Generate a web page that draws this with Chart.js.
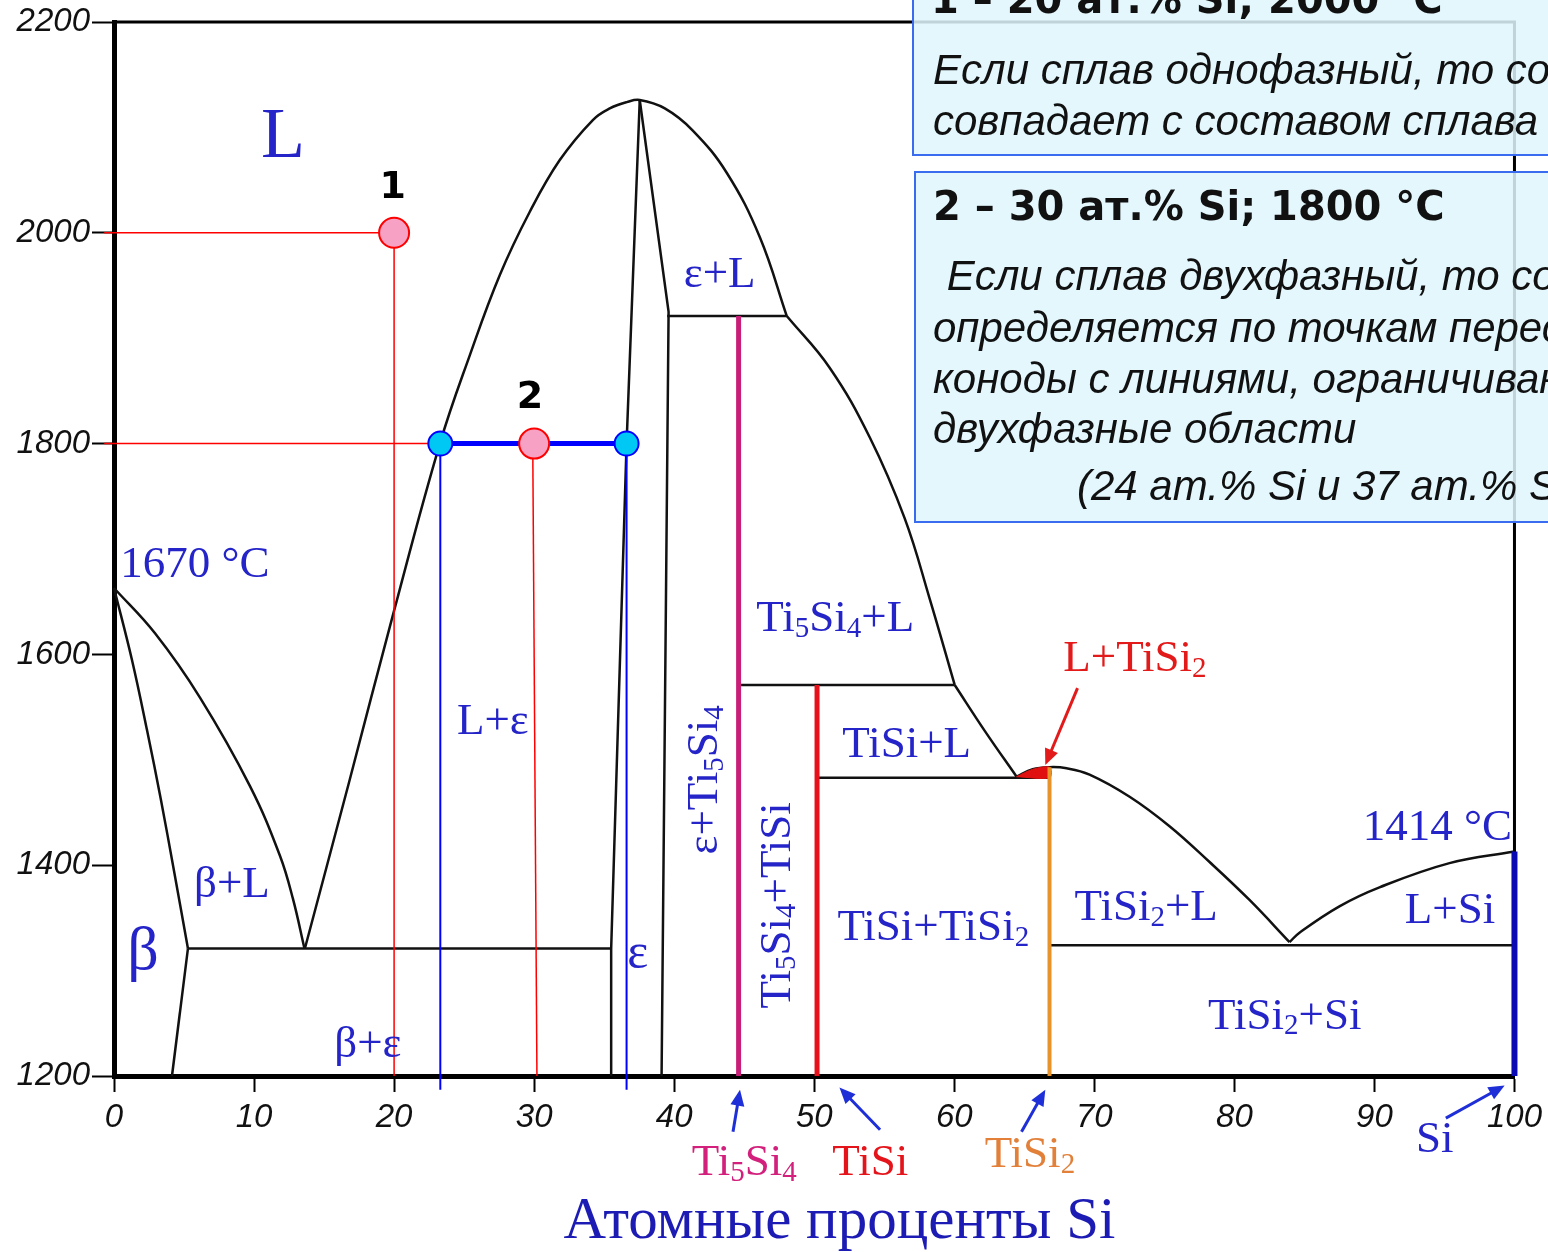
<!DOCTYPE html>
<html>
<head>
<meta charset="utf-8">
<script src="https://cdn.jsdelivr.net/npm/chart.js@4.4.0/dist/chart.umd.min.js"></script>
<style>
  html, body { margin: 0; padding: 0; background: #fff; overflow: hidden; }
  #wrap { position: relative; width: 1548px; height: 1252px; }
</style>
</head>
<body>
<div id="wrap"><canvas id="diagram"></canvas></div>
<script>
// Диаграмма Ti–Si: линии фазовых границ (ат.% Si, °C)
const liquidusTi    = [[0,1663],[2.93,1620],[6.14,1559],[9.71,1475],[11.85,1409],[12.78,1368],[13.6,1321]];
const betaSolidus   = [[0,1663],[1.28,1595],[2.36,1528],[3.35,1462],[4.28,1395],[5.28,1321]];
const betaSolvus    = [[5.28,1321],[4.14,1200]];
const eutecticBeta  = [[5.28,1321],[35.5,1321]];
const epsLeft       = [[35.5,1200],[35.5,1321],[36.6,1800],[37.54,2126]];
const epsRight      = [[37.54,2126],[39.6,1925],[39.1,1200]];
const liquidusDome  = [[13.63,1321],[16.77,1478],[19.91,1637],[23.27,1800],[25.41,1884],[27.55,1960],[29.69,2020],
                       [31.83,2069],[34.19,2107],[35.4,2118],[36.62,2124],[37.54,2126],[39.33,2118],[41.33,2097],
                       [43.75,2057],[46.11,1996],[48.04,1921]];
const liquidusTi5Si4 = [[48.04,1921],[51.1,1872],[53.96,1806],[56.46,1729],[58.24,1653],[60.03,1571]];
const liquidusTiSi  = [[60.03,1571],[62.2,1527],[64.45,1484]];
const peritecticTi5Si4 = [[39.5,1921],[48.04,1921]];
const peritecticTiSi   = [[44.6,1571],[60.03,1571]];
const eutecticTiSi     = [[50.2,1483],[66.8,1483]];
const liquidusTiSi2 = [[64.45,1484],[65.6,1491],[66.81,1493],[68.02,1492],[69.66,1486],[72.52,1465],[75.37,1437],
                       [78.23,1403],[81.08,1367],[83.94,1327]];
const liquidusSi    = [[83.94,1327],[84.65,1336],[87.5,1361],[90.36,1379],[95.36,1402],[100,1413]];
const eutecticSi    = [[66.8,1324],[100,1324]];
const regionLTiSi2  = [[64.45,1484],[65.6,1491],[66.81,1493],[66.81,1483],[64.45,1484]];

// Соединения (вертикали)
const phaseTi5Si4 = [[44.6,1921],[44.6,1200]];
const phaseTiSi   = [[50.2,1571],[50.2,1200]];
const phaseTiSi2  = [[66.8,1493],[66.8,1200]];
const phaseSi     = [[100,1413],[100,1200]];

// Построения для сплавов 1 и 2
const alloyPoints = [[20,2000],[30,1800]];
const tiePoints   = [[23.3,1800],[36.6,1800]];
const guide1H = [[-0.7,2000],[20,2000]];
const guide1V = [[20,2000],[20,1200]];
const guide2H = [[-0.7,1800],[23.3,1800]];
const guide2V = [[29.9,1800],[30.2,1200]];
const tieLine = [[23.3,1800],[36.6,1800]];
const tieLeftV  = [[23.3,1800],[23.3,1187]];
const tieRightV = [[36.6,1800],[36.6,1187]];

const xTicks = [0,10,20,30,40,50,60,70,80,90,100];
const yTicks = [1200,1400,1600,1800,2000,2200];

// Подписи областей: [текст, x, T, размер, цвет, поворот]
const BLUE = '#2424c8';
const regionLabels = [
  ['L', 12.06, 2090, 72, BLUE, 0],
  ['1670 °C', 5.78, 1685, 45, BLUE, 0],
  ['β+L', 8.42, 1381, 45, BLUE, 0],
  ['β', 2.07, 1317, 62, BLUE, 0],
  ['β+ε', 18.13, 1229, 45, BLUE, 0],
  ['L+ε', 27.05, 1536, 45, BLUE, 0],
  ['ε', 37.4, 1315, 50, BLUE, 0],
  ['ε+L', 43.25, 1960, 45, BLUE, 0],
  ['ε+Ti_5Si_4', 42.2, 1481, 45, BLUE, -90],
  ['Ti_5Si_4+TiSi', 47.4, 1362, 45, BLUE, -90],
  ['Ti_5Si_4+L', 51.5, 1633, 45, BLUE, 0],
  ['TiSi+L', 56.6, 1514, 45, BLUE, 0],
  ['TiSi+TiSi_2', 58.5, 1340, 45, BLUE, 0],
  ['TiSi_2+L', 73.7, 1359, 45, BLUE, 0],
  ['L+Si', 95.4, 1356, 45, BLUE, 0],
  ['TiSi_2+Si', 83.6, 1256, 45, BLUE, 0],
  ['1414 °C', 94.5, 1435, 45, BLUE, 0],
  ['L+TiSi_2', 72.9, 1595, 45, '#e21a1a', 0],
  ['Ti_5Si_4', 45.0, 1117, 45, '#d2207c', 0],
  ['TiSi', 54.0, 1117, 45, '#e4141a', 0],
  ['TiSi_2', 65.4, 1125, 45, '#e2803a', 0],
  ['Si', 94.3, 1139, 45, BLUE, 0],
  ['Атомные проценты Si', 51.8, 1061, 59, '#1c1cb4', 0]
];
// Стрелки: [x1, T1, x2, T2, цвет]
const arrows = [
  [44.2,1147,44.7,1187,'#1f2fd8'],
  [54.7,1149,51.8,1189,'#1f2fd8'],
  [64.8,1147,66.5,1187,'#1f2fd8'],
  [95.1,1160,99.3,1191,'#1f2fd8'],
  [68.8,1568,66.5,1495,'#e21a1a']
];
const pointNames = [['1', 19.9, 2042], ['2', 29.7, 1843]];

/**
 * Линия по точкам
 */
function line(points, color, width, extra) {
  return Object.assign({
    data: points.map(p => ({ x: p[0], y: p[1] })),
    showLine: true,
    borderColor: color,
    borderWidth: width,
    pointRadius: 0,
    tension: 0,
    fill: false,
    clip: false,
    order: 5
  }, extra || {});
}

// Плавная кривая
function curve(points, color, width) {
  return line(points, color, width, { tension: 0.4 });
}

/**
 * Текст с нижними индексами ("_5")
 */
function drawRich(ctx, text, size, color) {
  const parts = [];
  for (let i = 0; i < text.length; i++) {
    if (text[i] === '_') { parts.push({ t: text[i + 1], sub: true }); i++; }
    else if (parts.length && !parts[parts.length - 1].sub) parts[parts.length - 1].t += text[i];
    else parts.push({ t: text[i], sub: false });
  }
  const subSize = Math.round(size * 0.65);
  let total = 0;
  parts.forEach(p => {
    ctx.font = `${p.sub ? subSize : size}px "Liberation Serif", serif`;
    p.w = ctx.measureText(p.t).width;
    total += p.w;
  });
  let x = -total / 2;
  ctx.fillStyle = color;
  ctx.textBaseline = 'middle';
  ctx.textAlign = 'left';
  parts.forEach(p => {
    ctx.font = `${p.sub ? subSize : size}px "Liberation Serif", serif`;
    ctx.fillText(p.t, x, p.sub ? size * 0.22 : 0);
    x += p.w;
  });
}

function arrow(ctx, x1, y1, x2, y2, color) {
  const a = Math.atan2(y2 - y1, x2 - x1);
  const len = 16, half = 7;
  ctx.strokeStyle = color;
  ctx.fillStyle = color;
  ctx.lineWidth = 3;
  ctx.beginPath();
  ctx.moveTo(x1, y1);
  ctx.lineTo(x2 - Math.cos(a) * len * 0.8, y2 - Math.sin(a) * len * 0.8);
  ctx.stroke();
  ctx.beginPath();
  ctx.moveTo(x2, y2);
  ctx.lineTo(x2 - Math.cos(a) * len + Math.sin(a) * half, y2 - Math.sin(a) * len - Math.cos(a) * half);
  ctx.lineTo(x2 - Math.cos(a) * len - Math.sin(a) * half, y2 - Math.sin(a) * len + Math.cos(a) * half);
  ctx.closePath();
  ctx.fill();
}

function textBox(ctx, x, y, w, h, title, titleY, lines) {
  ctx.fillStyle = 'rgba(222,246,253,0.86)';
  ctx.fillRect(x, y, w, h);
  ctx.strokeStyle = '#3a6cf0';
  ctx.lineWidth = 2;
  ctx.strokeRect(x, y, w, h);
  ctx.fillStyle = '#111';
  ctx.textAlign = 'left';
  ctx.textBaseline = 'alphabetic';
  ctx.font = 'bold 40px "DejaVu Sans", sans-serif';
  ctx.fillText(title, x + 18, titleY);
  ctx.font = 'italic 42px "Liberation Sans", Arial, sans-serif';
  lines.forEach(l => ctx.fillText(l[0], x + l[1], l[2]));
}

const overlay = {
  id: 'overlay',
  beforeDatasetsDraw(chart) {
    const { ctx, chartArea: a } = chart;
    ctx.save();
    ctx.strokeStyle = '#000';
    ctx.lineWidth = 3;
    ctx.beginPath();
    ctx.moveTo(a.left, a.top);
    ctx.lineTo(a.right, a.top);
    ctx.lineTo(a.right, a.bottom);
    ctx.stroke();
    ctx.restore();
  },
  afterDraw(chart) {
    const { ctx } = chart;
    const sx = chart.scales.x, sy = chart.scales.y;
    ctx.save();
    regionLabels.forEach(([t, x, y, size, color, rot]) => {
      ctx.save();
      ctx.translate(sx.getPixelForValue(x), sy.getPixelForValue(y));
      ctx.rotate(rot * Math.PI / 180);
      drawRich(ctx, t, size, color);
      ctx.restore();
    });
    arrows.forEach(([x1, y1, x2, y2, c]) =>
      arrow(ctx, sx.getPixelForValue(x1), sy.getPixelForValue(y1), sx.getPixelForValue(x2), sy.getPixelForValue(y2), c));
    ctx.fillStyle = '#000';
    ctx.font = 'bold 38px "DejaVu Sans", sans-serif';
    ctx.textAlign = 'center';
    ctx.textBaseline = 'middle';
    pointNames.forEach(([t, x, y]) => ctx.fillText(t, sx.getPixelForValue(x), sy.getPixelForValue(y)));

    textBox(ctx, 913, -20, 680, 175, '1 – 20 ат.% Si; 2000 °C', 13, [
      ['Если сплав однофазный, то состав фазы', 20, 84],
      ['совпадает с составом сплава', 20, 135]
    ]);
    textBox(ctx, 915, 172, 680, 350, '2 – 30 ат.% Si; 1800 °C', 220, [
      [' Если сплав двухфазный, то состав фаз', 20, 290],
      ['определяется по точкам пересечения', 18, 342],
      ['коноды с линиями, ограничивающими', 18, 393],
      ['двухфазные области', 18, 443],
      ['(24 ат.% Si и 37 ат.% Si)', 162, 500]
    ]);
    ctx.restore();
  }
};

const K = '#111';
const datasets = [
  line(alloyPoints, '#ff0000', 2, { showLine: false, pointRadius: 15, pointBackgroundColor: '#f7a1c4', pointBorderColor: '#ff0000', pointBorderWidth: 2, order: 0 }),
  line(tiePoints, '#0000ff', 2, { showLine: false, pointRadius: 12, pointBackgroundColor: '#00c8f4', pointBorderColor: '#0000ff', pointBorderWidth: 2, order: 0 }),
  line(tieLine, '#0000ff', 5, { order: 1 }),
  line(guide1H, '#ff0000', 1.5, { order: 2 }),
  line(guide1V, '#ff0000', 1.5, { order: 2 }),
  line(guide2H, '#ff0000', 1.5, { order: 2 }),
  line(guide2V, '#ff0000', 1.5, { order: 2 }),
  line(tieLeftV, '#0000ff', 2, { order: 2 }),
  line(tieRightV, '#0000ff', 2, { order: 2 }),
  line(phaseTi5Si4, '#c81e78', 5, { order: 3 }),
  line(phaseTiSi, '#e8101a', 5, { order: 3 }),
  line(phaseTiSi2, '#e8922a', 4, { order: 3 }),
  line(phaseSi, '#0a0ab4', 6, { order: 3 }),
  line(regionLTiSi2, '#e01010', 1, { fill: 'shape', backgroundColor: '#e01010', tension: 0.3, order: 4 }),
  curve(liquidusTi, K, 2.5),
  curve(betaSolidus, K, 2.5),
  line(betaSolvus, K, 2.5),
  line(eutecticBeta, K, 2.5),
  line(epsLeft, K, 2.5),
  line(epsRight, K, 2.5),
  curve(liquidusDome, K, 2.5),
  curve(liquidusTi5Si4, K, 2.5),
  curve(liquidusTiSi, K, 2.5),
  line(peritecticTi5Si4, K, 2.5),
  line(peritecticTiSi, K, 2.5),
  line(eutecticTiSi, K, 2.5),
  curve(liquidusTiSi2, K, 2.5),
  curve(liquidusSi, K, 2.5),
  line(eutecticSi, K, 2.5)
];

const tickFont = { family: '"Liberation Sans", Arial, sans-serif', size: 33, style: 'italic' };

new Chart(document.getElementById('diagram').getContext('2d'), {
  type: 'scatter',
  data: { datasets },
  options: {
    responsive: true,
    maintainAspectRatio: false,
    animation: false,
    layout: { padding: { top: 22, right: 33, left: 0, bottom: 0 } },
    plugins: { legend: { display: false }, tooltip: { enabled: false } },
    scales: {
      x: {
        type: 'linear', min: 0, max: 100,
        afterBuildTicks: s => { s.ticks = xTicks.map(v => ({ value: v })); },
        afterFit: s => { s.height = 176; },
        ticks: { color: '#111', font: tickFont, padding: 6, maxRotation: 0, callback: v => String(v) },
        grid: { drawOnChartArea: false, tickLength: 16, tickWidth: 2, tickColor: '#000' },
        border: { color: '#000', width: 5 }
      },
      y: {
        type: 'linear', min: 1200, max: 2200,
        afterBuildTicks: s => { s.ticks = yTicks.map(v => ({ value: v })); },
        afterFit: s => { s.width = 114; },
        ticks: { color: '#111', font: tickFont, padding: 2, callback: v => String(v) },
        grid: { drawOnChartArea: false, tickLength: 22, tickWidth: 2, tickColor: '#000' },
        border: { color: '#000', width: 5 }
      }
    }
  },
  plugins: [overlay]
});
</script>
</body>
</html>
